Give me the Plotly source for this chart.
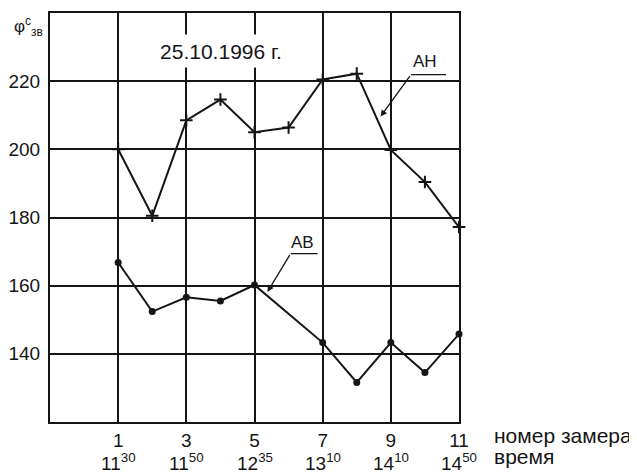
import plotly.graph_objects as go

ah_x = [1, 2, 3, 4, 5, 6, 7, 8, 9, 10, 11]
ah_y = [200, 180.5, 208.5, 214.6, 205, 206.4, 220.5, 222.2, 199.8, 190.4, 177.2]
ab_x = [1, 2, 3, 4, 5, 7, 8, 9, 10, 11]
ab_y = [166.8, 152.4, 156.6, 155.5, 160.2, 143.3, 131.6, 143.3, 134.5, 145.8]

tick_nums = [1, 3, 5, 7, 9, 11]
tick_hours = ["11", "11", "12", "13", "14", "14"]
tick_minutes = ["30", "50", "35", "10", "10", "50"]
y_ticks = [140, 160, 180, 200, 220]

FONT = "Liberation Sans, Arial, sans-serif"
INK = "#151515"

fig = go.Figure()
fig.add_trace(go.Scatter(x=ah_x, y=ah_y, mode="lines+markers", cliponaxis=False,
                         line=dict(color=INK, width=2),
                         marker=dict(symbol="cross-thin", size=9, line=dict(color=INK, width=2)),
                         showlegend=False))
fig.add_trace(go.Scatter(x=ab_x, y=ab_y, mode="lines+markers", cliponaxis=False,
                         line=dict(color=INK, width=2),
                         marker=dict(symbol="circle", size=7, color=INK),
                         showlegend=False))

fig.update_xaxes(range=[-1, 11], tickvals=tick_nums, ticktext=[str(n) for n in tick_nums],
                 showgrid=True, gridcolor=INK, gridwidth=1.5, automargin=False,
                 showline=True, linecolor=INK, linewidth=2, mirror=True,
                 zeroline=False, ticks="", tickfont=dict(family=FONT, size=19, color=INK))
fig.update_yaxes(range=[120, 240], tickvals=y_ticks,
                 showgrid=True, gridcolor=INK, gridwidth=1.5, automargin=False,
                 showline=True, linecolor=INK, linewidth=2, mirror=True,
                 zeroline=False, ticks="", ticklabelstandoff=4,
                 tickfont=dict(family=FONT, size=19, color=INK))

anns = []
for n, h, m in zip(tick_nums, tick_hours, tick_minutes):
    anns.append(dict(x=n, xref="x", y=0, yref="paper", yanchor="top", yshift=-26,
                     text=f"{h}<sup>{m}</sup>", showarrow=False,
                     font=dict(family=FONT, size=19, color=INK)))

anns += [
    dict(x=4.03, y=228.9, text="25.10.1996 г.", showarrow=False, bgcolor="white",
         width=130, height=32, borderpad=0, font=dict(family=FONT, size=21, color=INK)),
    dict(x=10.0, y=225.9, text="АН", showarrow=False, font=dict(family=FONT, size=17, color=INK)),
    dict(x=6.42, y=172.8, text="АВ", showarrow=False, font=dict(family=FONT, size=17, color=INK)),
    dict(xref="paper", yref="paper", x=1.0, y=0, xanchor="left", yanchor="top", yshift=0, xshift=33,
         text="номер замера", align="left", showarrow=False,
         font=dict(family=FONT, size=21, color=INK)),
    dict(xref="paper", yref="paper", x=1.0, y=0, xanchor="left", yanchor="top", yshift=-21, xshift=33,
         text="время", align="left", showarrow=False,
         font=dict(family=FONT, size=21, color=INK)),
    dict(xref="paper", yref="paper", x=0, y=1, xanchor="right", yanchor="top", xshift=-5, yshift=1,
         text="φ<sup>c</sup><sub>зв</sub>", showarrow=False, font=dict(family=FONT, size=17, color=INK)),
]
anns.append(dict(x=8.7, y=209.6, ax=9.59, ay=221.9, axref="x", ayref="y", xref="x", yref="y",
                 showarrow=True, arrowhead=2, arrowsize=1, arrowwidth=1.3, arrowcolor=INK, text=""))
anns.append(dict(x=5.38, y=158.2, ax=6.06, ay=169.4, axref="x", ayref="y", xref="x", yref="y",
                 showarrow=True, arrowhead=2, arrowsize=1, arrowwidth=1.3, arrowcolor=INK, text=""))

shapes = [
    dict(type="line", x0=9.59, y0=221.9, x1=10.62, y1=221.9, line=dict(color=INK, width=1.3)),
    dict(type="line", x0=6.06, y0=169.4, x1=6.85, y1=169.4, line=dict(color=INK, width=1.3)),
]

# page body has an 8px margin, so the figure is drawn 8px smaller and shifted
fig.update_layout(width=629, height=467, margin=dict(l=42, r=178, t=5, b=53),
                  plot_bgcolor="white", paper_bgcolor="white",
                  annotations=anns, shapes=shapes,
                  font=dict(family=FONT, color=INK))
fig.write_html("out.html")
